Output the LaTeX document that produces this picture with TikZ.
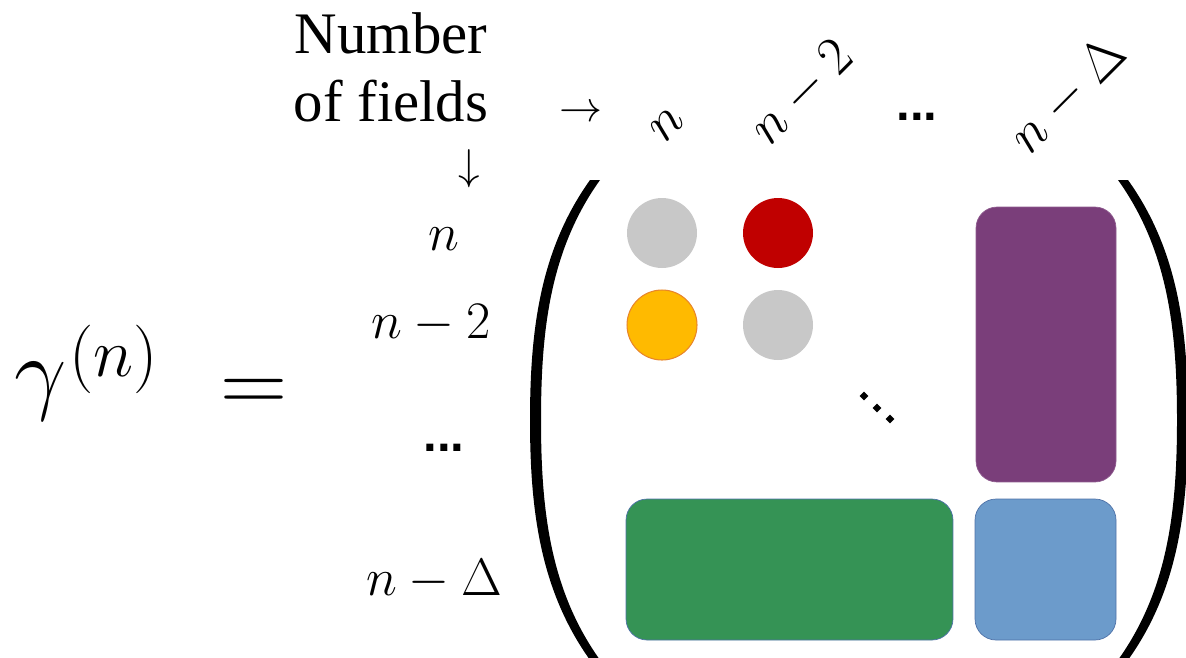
\RequirePackage{fix-cm}
\documentclass[tikz,border=0pt]{standalone}
\usepackage{amsmath}
\usepackage{fontspec}
\usepackage{tikz}
\usetikzlibrary{positioning}
\newfontfamily\labelfont{Liberation Serif}
\newfontfamily\dotfont{Liberation Sans}
\definecolor{cellgray}{HTML}{C8C8C8}
\definecolor{cellred}{HTML}{C00000}
\definecolor{cellyellow}{HTML}{FFBA00}
\definecolor{cellorange}{HTML}{E8862A}
\definecolor{blockpurple}{HTML}{7A3E7A}
\definecolor{blockgreen}{HTML}{359355}
\definecolor{blockblue}{HTML}{6C9BCB}
\definecolor{blockedge}{HTML}{4F72A8}

\begin{document}
\begin{tikzpicture}[x=0.02cm, y=-0.02cm,
    rowlab/.style={anchor=base, inner sep=0, font=\fontsize{30}{36}\selectfont},
    collab/.style={rotate=45, inner sep=0, font=\fontsize{31}{36}\selectfont},
    dotlab/.style={inner sep=0, font=\dotfont\bfseries\fontsize{28}{34}\selectfont},
    cell/.style={circle, minimum size=1.4cm, inner sep=0},
    block/.style={rounded corners=0.42cm, draw=blockedge, line width=0.4pt, inner sep=0}]
  \clip (0,0) rectangle (1186,657);

  % header
  \node[anchor=north, inner sep=0, align=center,
        font=\labelfont\fontsize{33.5}{38.7}\selectfont] (title) at (391,12) {Number\\of fields};
  \node[inner sep=0, font=\fontsize{24.5}{30}\selectfont] (rarr) at (581,114) {$\rightarrow$};
  \node[inner sep=0, font=\fontsize{24.5}{30}\selectfont] (darr) at (469,169) {$\downarrow$};

  % left hand side
  \node[anchor=base west, inner sep=0, font=\fontsize{53}{60}\selectfont] (gam) at (14,402)
    {$\gamma$};
  \node[anchor=base west, inner sep=0, font=\fontsize{39}{42}\selectfont] (sup) at (69,376)
    {$(n)$};
  \node[inner sep=0, font=\fontsize{53}{60}\selectfont] (eq) at (254,396) {$=$};

  % column labels
  \node[collab] (c1) at (667,125) {$n$};
  \node[collab] (c2) at (802,93) {$n-2$};
  \node[dotlab] (c3) at (917,117) {...};
  \node[collab] (c4) at (1068,95) {$n-\Delta$};

  % row labels
  \node[rowlab] (r1) at (444,250) {$n$};
  \node[rowlab] (r2) at (431,338) {$n-2$};
  \node[dotlab] (r3) at (444,448) {...};
  \node[rowlab] (r4) at (434,595) {$n-\Delta$};

  % parentheses
  \fill (590,180) .. controls (540,250) and (530,330) .. (530,420)
        .. controls (530,510) and (540,590) .. (590,660) -- (600,660)
        .. controls (550,590) and (541,510) .. (541,420)
        .. controls (541,330) and (550,250) .. (600,180) -- cycle;
  \fill (1128,180) .. controls (1178,250) and (1188,330) .. (1188,420)
        .. controls (1188,510) and (1178,590) .. (1128,660) -- (1118,660)
        .. controls (1168,590) and (1177,510) .. (1177,420)
        .. controls (1177,330) and (1168,250) .. (1118,180) -- cycle;

  % entries
  \node[cell, fill=cellgray] (g11) at (662,233) {};
  \node[cell, fill=cellred] (g12) at (778,233) {};
  \node[cell, fill=cellyellow, draw=cellorange, line width=0.6pt] (g21) at (662,325) {};
  \node[cell, fill=cellgray] (g22) at (778,325) {};
  \foreach \i/\x/\y in {1/864/396, 2/877/408, 3/890/419}
    \node[fill, rotate=45, minimum size=3.6pt, inner sep=0] (dd\i) at (\x,\y) {};

  \node[block, fill=blockpurple, draw=blockpurple!85!white, minimum width=2.8cm, minimum height=5.5cm] (bp) at (1046,344.5) {};
  \node[block, fill=blockgreen, minimum width=6.54cm, minimum height=2.82cm] (bg) at (789.5,569.5) {};
  \node[block, fill=blockblue, minimum width=2.82cm, minimum height=2.82cm] (bb) at (1045.5,569.5) {};
\end{tikzpicture}
\end{document}
